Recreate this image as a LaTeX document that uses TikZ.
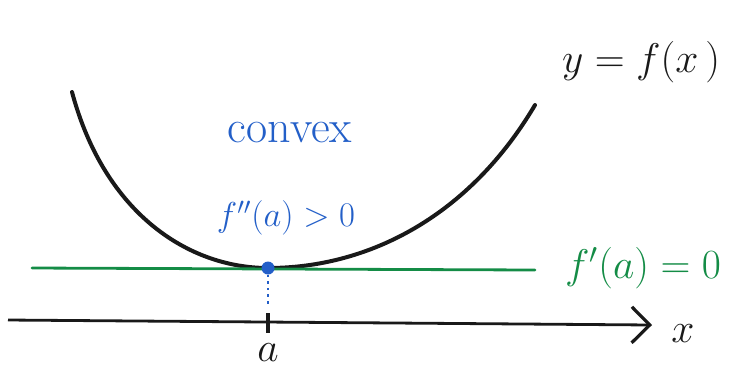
\documentclass[tikz,border=0pt]{standalone}
\usetikzlibrary{arrows.meta,positioning}
\definecolor{pen}{RGB}{25,25,25}
\definecolor{inkblue}{RGB}{35,95,200}
\definecolor{inkgreen}{RGB}{20,140,70}
\tikzset{
  >={Straight Barb[length=9pt,width=18pt,line width=1.6pt]},
  graph/.style={draw=pen,line width=2pt,line cap=round},
  tangent/.style={draw=inkgreen,line width=1.4pt,line cap=round},
  axis/.style={->,draw=pen,line width=1.4pt},
  hand/.style={font=\fontsize{#1}{#1}\selectfont,inner sep=0pt},
  hand/.default=20,
}

\begin{document}
\begin{tikzpicture}[x=0.5pt,y=-0.5pt]
  \useasboundingbox (0,0) rectangle (733,372);
  % curve and its minimum
  \coordinate (start) at (72,92);
  \coordinate (p) at (268,268);
  \coordinate (end) at (535,105);
  \draw[graph] (start) .. controls (105,215) and (190,268) .. (p)
    .. controls (370,268) and (470,215) .. (end);
  % tangent line
  \coordinate (tl) at (32,268);
  \coordinate (tr) at (535,270);
  \draw[tangent] (tl) -- (tr);
  % x axis
  \coordinate (ax0) at (8,320);
  \coordinate (ax1) at (652,325);
  \draw[axis] (ax0) -- (ax1);
  \coordinate (tick) at (268,323);
  \draw[pen,line width=2pt] ([yshift=5pt]tick) -- ([yshift=-5pt]tick);
  \draw[inkblue,dotted,line width=1.3pt] (p) -- ([yshift=8pt]tick);
  \node[circle,fill=inkblue,inner sep=0pt,minimum size=6.5pt] (dot) at (p) {};
  % labels
  \node[hand=22.5,pen] (fx) at (641,62) {$y=f(x\,)$};
  \node[hand=23,inkblue] (convex) at (290,133) {convex};
  \node[hand=17,inkblue] (second) at (286,218) {$f''(a)>0$};
  \node[hand=21,inkgreen] (first) at (643,268) {$f'(a)=0$};
  \node[hand=21,pen] (xlab) at (683,334) {$x$};
  \node[hand=21,pen] (alab) at (268,353) {$a$};
\end{tikzpicture}
\end{document}
